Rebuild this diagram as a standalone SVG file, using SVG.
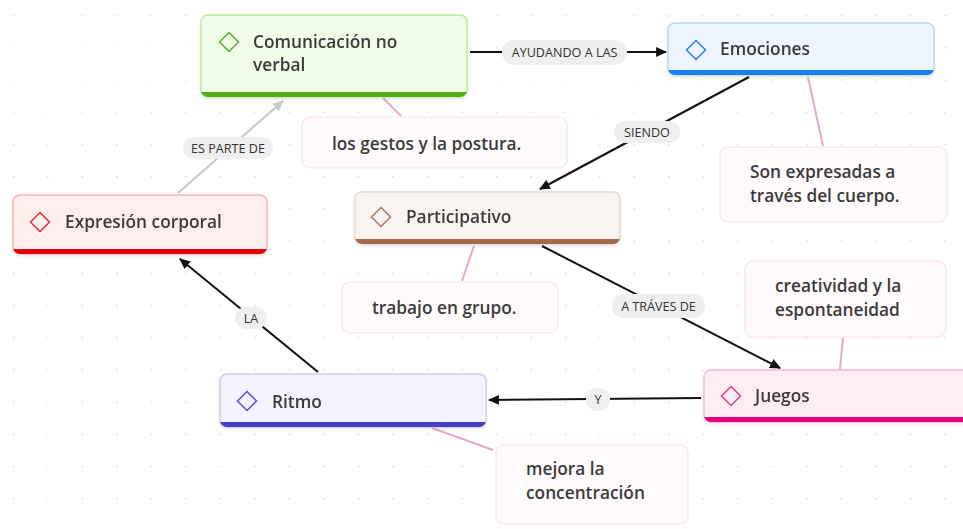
<svg xmlns="http://www.w3.org/2000/svg" width="963" height="529" viewBox="0 0 963 529">
<defs>
<pattern id="dots" x="12.7" y="15" width="34.5" height="32.2" patternUnits="userSpaceOnUse">
<circle cx="0.5" cy="0.5" r="1.1" fill="#d9d9d9"/>
</pattern>
<marker id="arr" viewBox="0 0 10 10" refX="9" refY="5" markerWidth="11" markerHeight="11" markerUnits="userSpaceOnUse" orient="auto">
<path d="M0,0.5 L10,5 L0,9.5 z" fill="#111"/>
</marker>
<marker id="arrg" viewBox="0 0 10 10" refX="9" refY="5" markerWidth="11" markerHeight="11" markerUnits="userSpaceOnUse" orient="auto">
<path d="M0,0.5 L10,5 L0,9.5 z" fill="#c8c8c8"/>
</marker>
<clipPath id="c1"><rect x="201" y="15" width="266" height="82" rx="7"/></clipPath>
<clipPath id="c2"><rect x="668" y="23" width="266" height="52" rx="7"/></clipPath>
<clipPath id="c3"><rect x="13" y="195" width="254" height="59" rx="7"/></clipPath>
<clipPath id="c4"><rect x="355" y="192" width="265" height="52" rx="7"/></clipPath>
<clipPath id="c5"><rect x="220" y="374" width="266" height="53" rx="7"/></clipPath>
<clipPath id="c6"><rect x="704" y="370" width="270" height="52" rx="7"/></clipPath>
<filter id="sh" x="-10%" y="-20%" width="120%" height="150%">
<feDropShadow dx="0" dy="1.5" stdDeviation="1.5" flood-color="#000" flood-opacity="0.10"/>
</filter>
</defs>
<style>
.nt{font-family:"Open Sans","Noto Sans","DejaVu Sans",sans-serif;font-size:17.3px;font-weight:600;fill:#3b3b3b}
.lt{font-family:"Open Sans","Noto Sans","DejaVu Sans",sans-serif;font-size:12.6px;fill:#333;text-anchor:middle}
.pill{fill:#efefef}
.note{fill:#fffafc;stroke:#f6e2eb;stroke-width:1.2}
.link{stroke:#111;stroke-width:2;fill:none}
.plink{stroke:#e7a8cf;stroke-width:2;fill:none}
.ico{fill:none;stroke-width:1.5}
</style>
<rect width="963" height="529" fill="#ffffff"/>
<rect width="963" height="529" fill="url(#dots)"/>

<g id="note-links">
<line class="plink" x1="383" y1="98" x2="401" y2="116"/>
<line class="plink" x1="808" y1="77" x2="823" y2="146"/>
<line class="plink" x1="474" y1="246" x2="462" y2="281"/>
<line class="plink" x1="840" y1="369" x2="843" y2="338"/>
<line class="plink" x1="432" y1="428" x2="493" y2="450"/>
</g>

<g id="connectors">
<line class="link" x1="470" y1="52" x2="666" y2="52" marker-end="url(#arr)"/>
<rect class="pill" x="502" y="40" width="125" height="25" rx="12.5"/>
<text class="lt" x="564.5" y="57">AYUDANDO A LAS</text>

<line class="link" x1="749" y1="77" x2="540" y2="189" marker-end="url(#arr)"/>
<rect class="pill" x="614" y="121" width="66" height="22" rx="11"/>
<text class="lt" x="647" y="136.5">SIENDO</text>

<line x1="178" y1="193" x2="283" y2="101" stroke="#c8c8c8" stroke-width="2" marker-end="url(#arrg)"/>
<rect class="pill" x="183" y="137" width="90" height="22" rx="11"/>
<text class="lt" x="228" y="152.5">ES PARTE DE</text>

<line class="link" x1="542" y1="246" x2="780" y2="368" marker-end="url(#arr)"/>
<rect class="pill" x="612" y="294" width="93" height="24" rx="12"/>
<text class="lt" x="658.5" y="310.5">A TRÁVES DE</text>

<line class="link" x1="701" y1="398" x2="489" y2="400" marker-end="url(#arr)"/>
<rect class="pill" x="586" y="388" width="24" height="23" rx="11.5"/>
<text class="lt" x="598" y="404">Y</text>

<line class="link" x1="318" y1="372" x2="180" y2="259" marker-end="url(#arr)"/>
<rect class="pill" x="235" y="307" width="32" height="22" rx="11"/>
<text class="lt" x="251" y="322.5">LA</text>
</g>

<g id="node-comunicacion" filter="url(#sh)">
<rect x="201" y="15" width="266" height="82" rx="7" fill="#f1fde9" stroke="#b8ec98" stroke-width="1.5"/>
<rect x="201" y="92" width="266" height="5" fill="#52b01c" clip-path="url(#c1)"/>
<path class="ico" stroke="#5aae2e" d="M229,32.5 L238.5,42 L229,51.5 L219.5,42 z"/>
<text class="nt" x="253" y="48">Comunicación no</text>
<text class="nt" x="253" y="71">verbal</text>
</g>

<g id="node-emociones" filter="url(#sh)">
<rect x="668" y="23" width="266" height="52" rx="7" fill="#eef5fe" stroke="#b9d7f7" stroke-width="1.5"/>
<rect x="668" y="70" width="266" height="5" fill="#1e7ff0" clip-path="url(#c2)"/>
<path class="ico" stroke="#2f7fe0" d="M696,40.5 L705.5,50 L696,59.5 L686.5,50 z"/>
<text class="nt" x="720" y="55">Emociones</text>
</g>

<g id="node-expresion" filter="url(#sh)">
<rect x="13" y="195" width="254" height="59" rx="7" fill="#fdeeee" stroke="#f5b8b8" stroke-width="1.5"/>
<rect x="13" y="249" width="254" height="5" fill="#e0060e" clip-path="url(#c3)"/>
<path class="ico" stroke="#d8303a" d="M40,212.5 L49.5,222 L40,231.5 L30.5,222 z"/>
<text class="nt" x="65" y="228">Expresión corporal</text>
</g>

<g id="node-participativo" filter="url(#sh)">
<rect x="355" y="192" width="265" height="52" rx="7" fill="#f9f4f1" stroke="#e8d8d0" stroke-width="1.5"/>
<rect x="355" y="239" width="265" height="5" fill="#a5684f" clip-path="url(#c4)"/>
<path class="ico" stroke="#a5786a" d="M381,207.5 L390.5,217 L381,226.5 L371.5,217 z"/>
<text class="nt" x="406" y="223">Participativo</text>
</g>

<g id="node-ritmo" filter="url(#sh)">
<rect x="220" y="374" width="266" height="53" rx="7" fill="#f3f2fd" stroke="#cfcaf2" stroke-width="1.5"/>
<rect x="220" y="422" width="266" height="5" fill="#4a3ccc" clip-path="url(#c5)"/>
<path class="ico" stroke="#5a4ed0" d="M247,391.5 L256.5,401 L247,410.5 L237.5,401 z"/>
<text class="nt" x="272" y="408">Ritmo</text>
</g>

<g id="node-juegos" filter="url(#sh)">
<rect x="704" y="370" width="270" height="52" rx="7" fill="#fdeef6" stroke="#f6b6d6" stroke-width="1.5"/>
<rect x="704" y="417" width="270" height="5" fill="#e6007e" clip-path="url(#c6)"/>
<path class="ico" stroke="#dc3e93" d="M731,386.5 L740.5,396 L731,405.5 L721.5,396 z"/>
<text class="nt" x="755" y="402">Juegos</text>
</g>

<g id="note-gestos">
<rect class="note" x="302" y="117" width="265" height="51" rx="8"/>
<text class="nt" x="332" y="150">los gestos y la postura.</text>
</g>
<g id="note-expresadas">
<rect class="note" x="720" y="147" width="227" height="75" rx="8"/>
<text class="nt" x="750" y="178">Son expresadas a</text>
<text class="nt" x="750" y="202">través del cuerpo.</text>
</g>
<g id="note-trabajo">
<rect class="note" x="342" y="282" width="216" height="51" rx="8"/>
<text class="nt" x="372" y="314">trabajo en grupo.</text>
</g>
<g id="note-creatividad">
<rect class="note" x="745" y="261" width="201" height="76" rx="8"/>
<text class="nt" x="775" y="292">creatividad y la</text>
<text class="nt" x="775" y="316">espontaneidad</text>
</g>
<g id="note-concentracion">
<rect class="note" x="496" y="445" width="192" height="79" rx="8"/>
<text class="nt" x="526" y="475">mejora la</text>
<text class="nt" x="526" y="499">concentración</text>
</g>
</svg>
